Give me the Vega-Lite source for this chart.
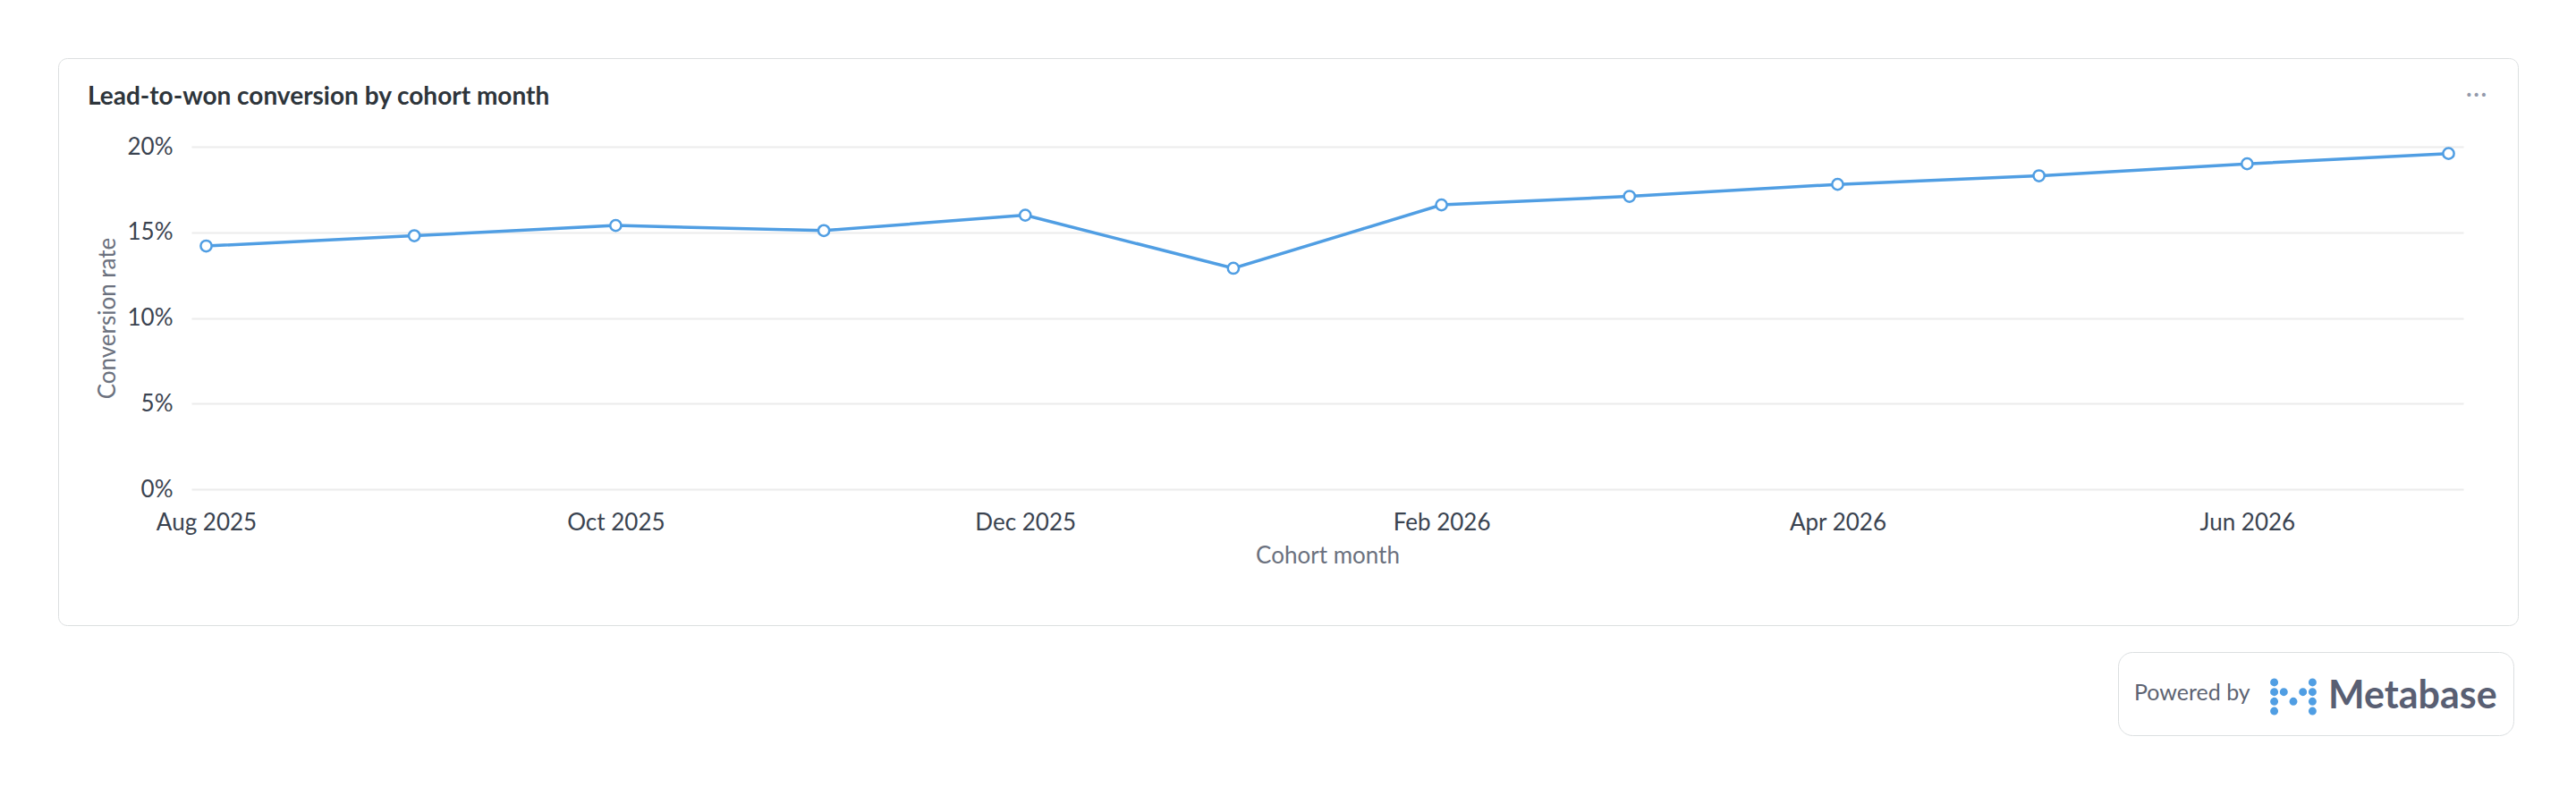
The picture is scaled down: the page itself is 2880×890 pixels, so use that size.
{
  "$schema": "https://vega.github.io/schema/vega-lite/v6.json",
  "width": 2540,
  "height": 383,
  "autosize": {"type": "none"},
  "padding": {"left": 214, "top": 164, "right": 126, "bottom": 343},
  "background": "#ffffff",
  "title": {
    "text": "Lead-to-won conversion by cohort month",
    "anchor": "start",
    "frame": "group",
    "dx": -116,
    "offset": -58,
    "font": "Lato",
    "fontSize": 28,
    "fontWeight": "bold",
    "color": "#2e353b"
  },
  "data": {
    "values": [
      {"month": "2025-08-01", "rate": 0.142, "brand": "Metabase"},
      {"month": "2025-09-01", "rate": 0.148, "brand": "Metabase"},
      {"month": "2025-10-01", "rate": 0.154, "brand": "Metabase"},
      {"month": "2025-11-01", "rate": 0.151, "brand": "Metabase"},
      {"month": "2025-12-01", "rate": 0.160, "brand": "Metabase"},
      {"month": "2026-01-01", "rate": 0.129, "brand": "Metabase"},
      {"month": "2026-02-01", "rate": 0.166, "brand": "Metabase"},
      {"month": "2026-03-01", "rate": 0.171, "brand": "Metabase"},
      {"month": "2026-04-01", "rate": 0.178, "brand": "Metabase"},
      {"month": "2026-05-01", "rate": 0.183, "brand": "Metabase"},
      {"month": "2026-06-01", "rate": 0.190, "brand": "Metabase"},
      {"month": "2026-07-01", "rate": 0.196, "brand": "Metabase"}
    ]
  },
  "encoding": {
    "x": {
      "field": "month",
      "type": "temporal",
      "title": "Cohort month",
      "scale": {"type": "utc", "padding": 16.5, "nice": false},
      "axis": {
        "values": [
          {"year": 2025, "month": 8, "date": 1, "utc": true},
          {"year": 2025, "month": 10, "date": 1, "utc": true},
          {"year": 2025, "month": 12, "date": 1, "utc": true},
          {"year": 2026, "month": 2, "date": 1, "utc": true},
          {"year": 2026, "month": 4, "date": 1, "utc": true},
          {"year": 2026, "month": 6, "date": 1, "utc": true}
        ],
        "format": "%b %Y",
        "grid": false,
        "domain": false,
        "ticks": false,
        "tickSize": 0,
        "labelPadding": 24,
        "labelFlush": false,
        "labelOverlap": false,
        "labelFont": "Lato",
        "labelFontSize": 26,
        "labelColor": "#3a4350",
        "titleFont": "Lato",
        "titleFontSize": 26,
        "titleFontWeight": "normal",
        "titleColor": "#6b717e",
        "titlePadding": 11
      }
    },
    "y": {
      "field": "rate",
      "type": "quantitative",
      "title": "Conversion rate",
      "scale": {"domain": [0, 0.2], "nice": false, "zero": true},
      "axis": {
        "values": [0, 0.05, 0.1, 0.15, 0.2],
        "format": ".0%",
        "grid": true,
        "gridColor": "#ececec",
        "gridWidth": 2,
        "domain": false,
        "ticks": false,
        "tickSize": 0,
        "labelPadding": 21,
        "labelFont": "Lato",
        "labelFontSize": 26,
        "labelColor": "#3a4350",
        "titleFont": "Lato",
        "titleFontSize": 26,
        "titleFontWeight": "normal",
        "titleColor": "#6b717e",
        "titlePadding": 9
      }
    }
  },
  "layer": [
    {
      "mark": {"type": "line", "strokeWidth": 3.5},
      "encoding": {
        "color": {
          "field": "brand",
          "type": "nominal",
          "scale": {"range": ["#509ee3"]},
          "legend": {
            "title": "Powered by",
            "orient": "none",
            "legendX": 2154,
            "legendY": 565,
            "direction": "horizontal",
            "titleOrient": "left",
            "titleFont": "Lato",
            "titleFontSize": 25,
            "titleFontWeight": "normal",
            "titleColor": "#5d6372",
            "titlePadding": 16,
            "labelFont": "Lato",
            "labelFontSize": 43,
            "labelFontWeight": "bold",
            "labelColor": "#595f73",
            "labelOffset": 7,
            "labelLimit": 600,
            "symbolType": "M-0.721,-0.522a0.025,0.025 0 1,0 0.05,0a0.025,0.025 0 1,0 -0.05,0M-0.761,-0.522a0.065,0.065 0 1,0 0.13,0a0.065,0.065 0 1,0 -0.13,0M-0.801,-0.522a0.105,0.105 0 1,0 0.21,0a0.105,0.105 0 1,0 -0.21,0M0.671,-0.522a0.025,0.025 0 1,0 0.05,0a0.025,0.025 0 1,0 -0.05,0M0.631,-0.522a0.065,0.065 0 1,0 0.13,0a0.065,0.065 0 1,0 -0.13,0M0.591,-0.522a0.105,0.105 0 1,0 0.21,0a0.105,0.105 0 1,0 -0.21,0M-0.721,-0.174a0.025,0.025 0 1,0 0.05,0a0.025,0.025 0 1,0 -0.05,0M-0.761,-0.174a0.065,0.065 0 1,0 0.13,0a0.065,0.065 0 1,0 -0.13,0M-0.801,-0.174a0.105,0.105 0 1,0 0.21,0a0.105,0.105 0 1,0 -0.21,0M-0.373,-0.174a0.025,0.025 0 1,0 0.05,0a0.025,0.025 0 1,0 -0.05,0M-0.413,-0.174a0.065,0.065 0 1,0 0.13,0a0.065,0.065 0 1,0 -0.13,0M-0.453,-0.174a0.105,0.105 0 1,0 0.21,0a0.105,0.105 0 1,0 -0.21,0M0.323,-0.174a0.025,0.025 0 1,0 0.05,0a0.025,0.025 0 1,0 -0.05,0M0.283,-0.174a0.065,0.065 0 1,0 0.13,0a0.065,0.065 0 1,0 -0.13,0M0.243,-0.174a0.105,0.105 0 1,0 0.21,0a0.105,0.105 0 1,0 -0.21,0M0.671,-0.174a0.025,0.025 0 1,0 0.05,0a0.025,0.025 0 1,0 -0.05,0M0.631,-0.174a0.065,0.065 0 1,0 0.13,0a0.065,0.065 0 1,0 -0.13,0M0.591,-0.174a0.105,0.105 0 1,0 0.21,0a0.105,0.105 0 1,0 -0.21,0M-0.721,0.174a0.025,0.025 0 1,0 0.05,0a0.025,0.025 0 1,0 -0.05,0M-0.761,0.174a0.065,0.065 0 1,0 0.13,0a0.065,0.065 0 1,0 -0.13,0M-0.801,0.174a0.105,0.105 0 1,0 0.21,0a0.105,0.105 0 1,0 -0.21,0M-0.025,0.174a0.025,0.025 0 1,0 0.05,0a0.025,0.025 0 1,0 -0.05,0M-0.065,0.174a0.065,0.065 0 1,0 0.13,0a0.065,0.065 0 1,0 -0.13,0M-0.105,0.174a0.105,0.105 0 1,0 0.21,0a0.105,0.105 0 1,0 -0.21,0M0.671,0.174a0.025,0.025 0 1,0 0.05,0a0.025,0.025 0 1,0 -0.05,0M0.631,0.174a0.065,0.065 0 1,0 0.13,0a0.065,0.065 0 1,0 -0.13,0M0.591,0.174a0.105,0.105 0 1,0 0.21,0a0.105,0.105 0 1,0 -0.21,0M-0.721,0.522a0.025,0.025 0 1,0 0.05,0a0.025,0.025 0 1,0 -0.05,0M-0.761,0.522a0.065,0.065 0 1,0 0.13,0a0.065,0.065 0 1,0 -0.13,0M-0.801,0.522a0.105,0.105 0 1,0 0.21,0a0.105,0.105 0 1,0 -0.21,0M0.671,0.522a0.025,0.025 0 1,0 0.05,0a0.025,0.025 0 1,0 -0.05,0M0.631,0.522a0.065,0.065 0 1,0 0.13,0a0.065,0.065 0 1,0 -0.13,0M0.591,0.522a0.105,0.105 0 1,0 0.21,0a0.105,0.105 0 1,0 -0.21,0",
            "symbolSize": 3782,
            "symbolStrokeWidth": 2.5,
            "symbolFillColor": "#509ee3",
            "fillColor": "#ffffff",
            "strokeColor": "#dcdfe1",
            "cornerRadius": 16,
            "padding": 18
          }
        }
      }
    },
    {
      "mark": {
        "type": "point",
        "filled": true,
        "stroke": "#509ee3",
        "strokeWidth": 2.5,
        "size": 150,
        "opacity": 1
      },
      "encoding": {
        "fill": {
          "field": "rate",
          "type": "quantitative",
          "scale": {"range": ["#ffffff", "#ffffff"]},
          "legend": {
            "title": ["", "•••"],
            "orient": "none",
            "legendX": -149,
            "legendY": -99,
            "direction": "horizontal",
            "titleOrient": "top",
            "titleAnchor": "end",
            "titleFont": "DejaVu Sans",
            "titleFontSize": 14,
            "titleLineHeight": 18,
            "titleFontWeight": "normal",
            "titleColor": "#949aab",
            "titlePadding": 0,
            "titleLimit": 400,
            "gradientLength": 2716,
            "gradientThickness": 567,
            "gradientOpacity": 0,
            "gradientStrokeWidth": 0,
            "labelOpacity": 0,
            "labelFontSize": 1,
            "labelOffset": 0,
            "padding": 17,
            "strokeColor": "#dcdfe0",
            "cornerRadius": 10
          }
        }
      }
    }
  ],
  "config": {
    "view": {"stroke": null},
    "font": "Lato",
    "legend": {
      "gradientHorizontalMaxLength": 4000,
      "gradientVerticalMaxLength": 4000
    }
  }
}
